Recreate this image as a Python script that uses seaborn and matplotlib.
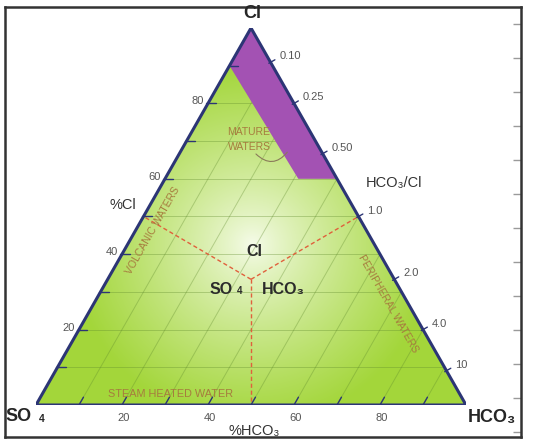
import numpy as np
import matplotlib
matplotlib.use("Agg")
import matplotlib.pyplot as plt
from matplotlib.patches import Polygon
import pandas as pd
import seaborn as sns

# ---------------- data ----------------
cl_ticks = [10, 20, 30, 40, 50, 60, 70, 80, 90]
cl_labels = ["", "20", "", "40", "", "60", "", "80", ""]
hco3_ticks = [10, 20, 30, 40, 50, 60, 70, 80, 90]
hco3_labels = ["", "20", "", "40", "", "60", "", "80", ""]
ratio_values = [0.10, 0.25, 0.50, 1.0, 2.0, 4.0, 10.0]
ratio_labels = ["0.10", "0.25", "0.50", "1.0", "2.0", "4.0", "10"]
grid_levels = [10, 20, 30, 40, 50, 60, 70, 80, 90]
# mature-water field (Cl, SO4 in %; HCO3 = rest)
mature_cl = [100, 90, 60, 60]
mature_so4 = [0, 10, 9, 0]
# field boundaries: centroid to edge midpoints (Cl, SO4, HCO3)
boundary_start = [(1/3, 1/3, 1/3)] * 3
boundary_end = [(0.5, 0.5, 0.0), (0.5, 0.0, 0.5), (0.0, 0.5, 0.5)]

# ---------------- style ----------------
sns.set_theme(style="white")
plt.rcParams['font.family'] = ['Liberation Sans', 'DejaVu Sans']

FW, FH = 537, 440
fig = plt.figure(figsize=(FW / 100, FH / 100), dpi=100)

# outer frame
fx0, fy0, fx1, fy1 = 5, 7, 521, 437
axf = fig.add_axes([fx0 / FW, (FH - fy1) / FH, (fx1 - fx0) / FW, (fy1 - fy0) / FH])
axf.set_xlim(0, 1)
axf.set_ylim(fy1, fy0)
axf.set_xticks([])
axf.set_yticks(np.arange(24, 440, 34))
axf.yaxis.tick_right()
axf.tick_params(axis='y', direction='in', length=6, width=1, color='#9a9a9a',
                right=True, left=False, labelright=False, labelleft=False)
for s in axf.spines.values():
    s.set_color('#333333')
    s.set_linewidth(1.8)
axf.set_facecolor('white')

# ternary axes
L, R, B, T = 36, 466, 405, 28
PW, PH = R - L, B - T
ax = fig.add_axes([L / FW, (FH - B) / FH, PW / FW, PH / FH])
ax.set_xlim(0, 1)
ax.set_ylim(0, 1)
ax.axis('off')


def tern(cl, so4, hco3):
    s = cl + so4 + hco3
    cl, hco3 = cl / s, hco3 / s
    return hco3 + cl / 2, cl


def px(x, y):
    return (x - L) / PW, (B - y) / PH


# gradient fill
n = 500
X, Y = np.meshgrid(np.linspace(0, 1, n), np.linspace(0, 1, n))
cx, cy = px(252, 245)
d = np.hypot((X - cx) * PW, (Y - cy) * PH)
t = np.clip(d / 180, 0, 1) ** 0.8
white = np.array([0.97, 0.99, 0.93])
green = np.array([0.64, 0.84, 0.23])
img = white * (1 - t[..., None]) + green * t[..., None]
im = ax.imshow(img, extent=(0, 1, 0, 1), origin='lower', aspect='auto',
               zorder=1, interpolation='bilinear')
corners = [tern(0, 1, 0), tern(0, 0, 1), tern(1, 0, 0)]
clip_tri = Polygon(corners, closed=True, transform=ax.transData, facecolor='none')
im.set_clip_path(clip_tri)

# grid lines
rows = []
for k, g in enumerate(grid_levels):
    c = g / 100
    for p in (tern(c, 1 - c, 0), tern(c, 0, 1 - c)):
        rows.append(dict(x=p[0], y=p[1], seg=f"h{k}"))
    for p in (tern(0, 1 - c, c), tern(1 - c, 0, c)):
        rows.append(dict(x=p[0], y=p[1], seg=f"s{k}"))
grid_df = pd.DataFrame(rows)
sns.lineplot(data=grid_df, x='x', y='y', units='seg', estimator=None, sort=False,
             color='#5f8a2c', alpha=0.35, lw=0.7, ax=ax, zorder=2, legend=False)

# mature waters field
mature_pts = [tern(c / 100, s / 100, 1 - c / 100 - s / 100) for c, s in zip(mature_cl, mature_so4)]
ax.add_patch(Polygon(mature_pts, closed=True, facecolor='#a352b3', edgecolor='none', zorder=3))

# dashed field boundaries
brows = []
for k, (a, b) in enumerate(zip(boundary_start, boundary_end)):
    for p in (tern(*a), tern(*b)):
        brows.append(dict(x=p[0], y=p[1], seg=k))
bdf = pd.DataFrame(brows)
sns.lineplot(data=bdf, x='x', y='y', units='seg', estimator=None, sort=False,
             color='#e0603c', lw=1.0, ax=ax, zorder=4, legend=False, dashes=False,
             linestyle=(0, (3, 2)))

# triangle outline
ax.add_patch(Polygon(corners, closed=True, facecolor='none', edgecolor='#2c3575',
                     lw=2.2, zorder=5, joinstyle='miter'))

num_col = '#555555'
# left (%Cl) ticks
for v, lab in zip(cl_ticks, cl_labels):
    c = v / 100
    x0, y0 = tern(c, 1 - c, 0)
    ax.plot([x0 - 2 / PW, x0 + 8 / PW], [y0, y0], color='#2c3575', lw=1.0, zorder=5)
    if lab:
        ax.text(x0 - 4 / PW, y0 + 2 / PH, lab, ha='right', va='center', fontsize=8,
                color=num_col, zorder=6)

# base (%HCO3) ticks
for v, lab in zip(hco3_ticks, hco3_labels):
    h = v / 100
    x0, y0 = tern(0, 1 - h, h)
    dc = 9 / 434
    ax.plot([x0, x0 + dc / 2], [y0, dc], color='#2c3575', lw=1.0, zorder=5)
    if lab:
        ax.text(x0 + 2 / PW, y0 - 13 / PH, lab, ha='center', va='center', fontsize=8,
                color=num_col, zorder=6)

# right-edge HCO3/Cl ratio ticks
nx, ny = 0.869, 0.495
for r, lab in zip(ratio_values, ratio_labels):
    c = 1 / (1 + r)
    x0, y0 = tern(c, 0, 1 - c)
    ax.plot([x0 - 2 * nx / PW, x0 + 5 * nx / PW], [y0 - 2 * ny / PH, y0 + 5 * ny / PH],
            color='#2c3575', lw=1.0, zorder=5)
    ax.text(x0 + 9 / PW, y0 + 6 / PH, lab, ha='left', va='center', fontsize=8,
            color=num_col, zorder=6)

# vertex / axis labels
dark = '#262626'
ax.text(*px(252, 14), "Cl", ha='center', va='center', fontsize=13, fontweight='bold', color=dark)
ax.text(*px(19, 416), "SO", ha='center', va='center', fontsize=13, fontweight='bold', color=dark)
ax.text(*px(42, 419), "4", ha='center', va='center', fontsize=7.5, fontweight='bold', color=dark)
ax.text(*px(492, 417), "HCO₃", ha='center', va='center', fontsize=13, fontweight='bold', color=dark)
ax.text(*px(123, 205), "%Cl", ha='center', va='center', fontsize=10.5, color='#333333')
ax.text(*px(254, 431), "%HCO₃", ha='center', va='center', fontsize=10.5, color='#333333')
ax.text(*px(394, 183), "HCO₃/Cl", ha='center', va='center', fontsize=10.5, color='#333333')

# inner field labels
ax.text(*px(254, 252), "Cl", ha='center', va='center', fontsize=11.5, fontweight='bold', color='#2b2b2b', zorder=6)
ax.text(*px(221, 289), "SO", ha='center', va='center', fontsize=11.5, fontweight='bold', color='#2b2b2b', zorder=6)
ax.text(*px(240, 291), "4", ha='center', va='center', fontsize=7, fontweight='bold', color='#2b2b2b', zorder=6)
ax.text(*px(283, 289), "HCO₃", ha='center', va='center', fontsize=11.5, fontweight='bold', color='#2b2b2b', zorder=6)

brown = '#a67c3e'
ang = np.degrees(np.arctan2(PH, PW / 2))
ax.text(*px(249, 132), "MATURE", ha='center', va='center', fontsize=7.5, color=brown, zorder=6)
ax.text(*px(249, 147), "WATERS", ha='center', va='center', fontsize=7.5, color=brown, zorder=6)
ax.annotate("", xy=px(289, 150), xytext=px(254, 152), zorder=6,
            arrowprops=dict(arrowstyle='-', color='#8a7a5a', lw=0.8,
                            connectionstyle='arc3,rad=0.6'))
ax.text(*px(153, 231), "VOLCANIC WATERS", ha='center', va='center', fontsize=7.5,
        color=brown, rotation=ang, rotation_mode='anchor', zorder=6)
ax.text(*px(388, 304), "PERIPHERAL WATERS", ha='center', va='center', fontsize=7.5,
        color=brown, rotation=-ang, rotation_mode='anchor', zorder=6)
ax.text(*px(170, 394), "STEAM HEATED WATER", ha='center', va='center', fontsize=7.8,
        color=brown, zorder=6)

fig.savefig("out.png", dpi=100)
